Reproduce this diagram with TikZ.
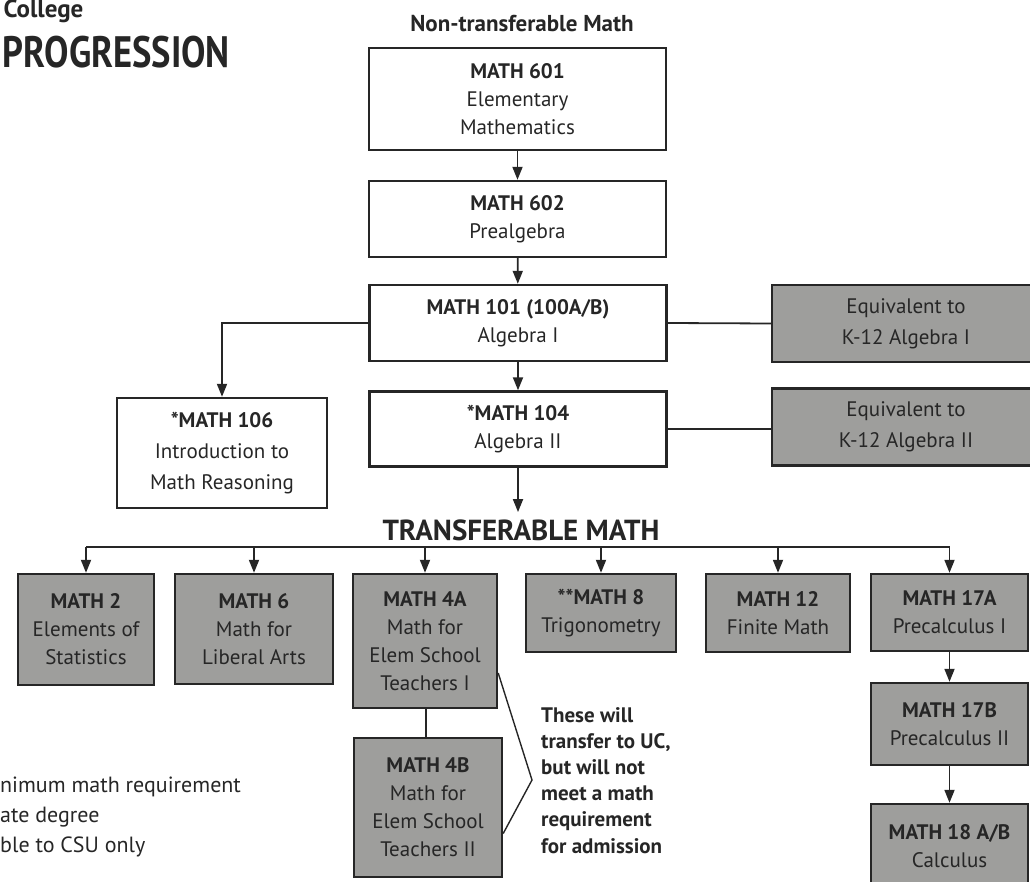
\documentclass[tikz,border=0pt]{standalone}
\usepackage{fontspec}
\setmainfont{PT Sans}
\usetikzlibrary{arrows.meta}

\definecolor{ink}{RGB}{38,38,38}
\definecolor{boxgray}{RGB}{158,158,156}

\begin{document}
\begin{tikzpicture}[x=1pt,y=-1pt,>={Triangle[width=10pt,length=13pt]},
  every node/.style={text=ink},
  course/.style={draw=ink,line width=2.4pt,align=center,inner sep=0pt,
    font=\fontsize{21}{28}\selectfont},
  transfer/.style={course,fill=boxgray},
  link/.style={draw=ink,line width=1.8pt}]
\useasboundingbox (0,0) rectangle (1030,882);

% define the titles
  \node[anchor=base west,font=\bfseries\fontsize{25}{28}\selectfont] (college) at (0,18) {College};
  \node[anchor=base west,xscale=0.83,transform shape,font=\bfseries\fontsize{44}{48}\selectfont] (progression) at (0,68) {PROGRESSION};
  \node[anchor=base,font=\bfseries\fontsize{23}{26}\selectfont] (nontrans) at (522,32) {Non-transferable Math};
  \node[anchor=base,inner sep=1pt,font=\bfseries\fontsize{29}{32}\selectfont] (trans) at (521,540) {TRANSFERABLE MATH};

% define the non-transferable courses
  \node[course,minimum width=297pt,minimum height=102pt] (m601) at (517.5,99)
{\textbf{MATH 601}\\Elementary\\Mathematics};
  \node[course,minimum width=297pt,minimum height=76pt] (m602) at (517.5,219)
{\textbf{MATH 602}\\Prealgebra};
  \node[course,minimum width=297pt,minimum height=76pt] (m101) at (518,323)
{\textbf{MATH 101 (100A/B)}\\Algebra I};
  \node[course,minimum width=297pt,minimum height=75pt] (m104) at (518,429)
{\textbf{*MATH 104}\\Algebra II};
  \node[course,minimum width=210pt,minimum height=110pt,font=\fontsize{21}{31}\selectfont] (m106) at (222,453)
{\textbf{*MATH 106}\\Introduction to\\Math Reasoning};
  \node[transfer,minimum width=268pt,minimum height=77pt,font=\fontsize{21}{31}\selectfont] (eq1) at (906,323.5)
{Equivalent to\\K-12 Algebra I};
  \node[transfer,minimum width=268pt,minimum height=77pt,font=\fontsize{21}{31}\selectfont] (eq2) at (906,427)
{Equivalent to\\K-12 Algebra II};

% define the transferable courses
  \node[transfer,minimum width=136pt,minimum height=111pt] (m2) at (86,629.5)
{\textbf{MATH 2}\\Elements of\\Statistics};
  \node[transfer,minimum width=158pt,minimum height=110pt] (m6) at (254,629)
{\textbf{MATH 6}\\Math for\\Liberal Arts};
  \node[transfer,minimum width=144pt,minimum height=134pt] (m4a) at (425,641)
{\textbf{MATH 4A}\\Math for\\Elem School\\Teachers I};
  \node[transfer,minimum width=148pt,minimum height=139pt] (m4b) at (428,807.5)
{\textbf{MATH 4B}\\Math for\\Elem School\\Teachers II};
  \node[transfer,minimum width=150pt,minimum height=78pt] (m8) at (601,613)
{\textbf{**MATH 8}\\Trigonometry};
  \node[transfer,minimum width=144pt,minimum height=78pt] (m12) at (778,613)
{\textbf{MATH 12}\\Finite Math};
  \node[transfer,minimum width=157pt,minimum height=77pt] (m17a) at (949.5,612.5)
{\textbf{MATH 17A}\\Precalculus I};
  \node[transfer,minimum width=157pt,minimum height=82pt] (m17b) at (949.5,724)
{\textbf{MATH 17B}\\Precalculus II};
  \node[transfer,minimum width=157pt,minimum height=84pt] (m18) at (949.5,846)
{\textbf{MATH 18 A/B}\\Calculus};

% define the notes
  \node[anchor=north west,align=left,inner sep=0pt,font=\bfseries\fontsize{21}{26.2}\selectfont] (note) at (541,707)
{These will\\transfer to UC,\\but will not\\meet a math\\requirement\\for admission};
  \node[anchor=north west,align=left,inner sep=0pt,font=\fontsize{22}{30}\selectfont] (legend) at (0,777)
{nimum math requirement\\ate degree\\ble to CSU only};

  \coordinate (bus) at (521,547);
  \coordinate (tip) at (532,780);

% define the links
  \draw[link,->] (m601) -- (m602);
  \draw[link,->] (m602) -- (m101);
  \draw[link,->] (m101) -- (m104);
  \draw[link,->] (m101.west) -| (m106.north);
  \draw[link] (m101.east) -- (eq1.west);
  \draw[link] (m104.east) -- (m104.east -| eq2.west);
  \draw[link,->,shorten >=6pt] (m104.south) -- (m104.south |- trans.north);
  \draw[link] (m2.north |- bus) -- (m17a.north |- bus);
  \foreach \c in {m2,m6,m4a,m8,m12,m17a}
    \draw[link,->] (\c.north |- bus) -- (\c.north);
  \draw[link] (m4a.south -| 426,0) -- (m4b.north -| 426,0);
  \draw[link,line width=1.4pt] ([yshift=-32pt]m4a.east) -- (tip) -- ([yshift=-26pt]m4b.east);
  \draw[link,->] (m17a) -- (m17b);
  \draw[link,->] (m17b) -- (m18);

\end{tikzpicture}
\end{document}
